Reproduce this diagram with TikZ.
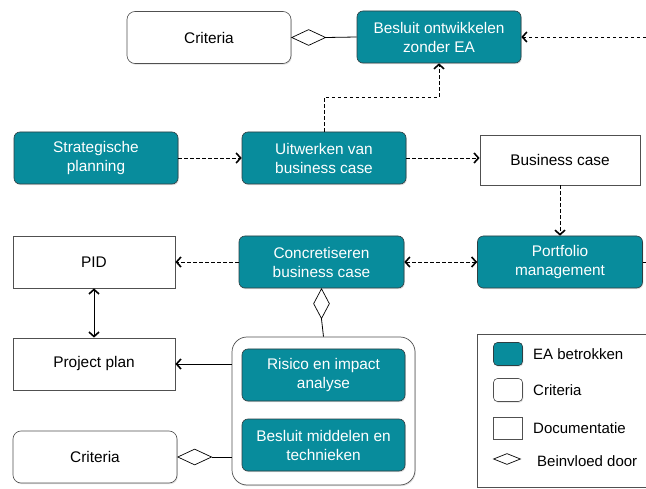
\documentclass[tikz,border=0pt]{standalone}
\usepackage{fontspec}
\setmainfont{Liberation Sans}
\usetikzlibrary{arrows.meta,shapes.geometric,shadows,calc}
\definecolor{eateal}{RGB}{8,140,156}
\definecolor{eaborder}{RGB}{45,62,66}
\definecolor{boxline}{RGB}{80,80,80}
\newcommand\mainfs{\fontsize{15.4}{19}\selectfont}
\newcommand\legfs{\fontsize{15}{18}\selectfont}
\begin{document}
\begin{tikzpicture}[x=1pt,y=-1pt,
  shad/.style={drop shadow={opacity=0.25,shadow xshift=0.8pt,shadow yshift=-1.2pt}},
  ea/.style={draw=eaborder, line width=0.6pt, fill=eateal, text=white, rounded corners=6pt,
    minimum width=164pt, minimum height=52pt, align=center, font=\mainfs, inner sep=2pt, shad},
  crit/.style={draw=boxline, line width=0.6pt, fill=white, rounded corners=8pt,
    minimum width=164pt, minimum height=52pt, align=center, font=\mainfs, shad},
  doc/.style={draw=boxline, line width=0.8pt, fill=white,
    minimum width=162pt, minimum height=52pt, align=center, font=\mainfs},
  dia/.style={draw=black, line width=0.7pt, fill=white, shape=diamond, inner sep=0pt},
  dsh/.style={dash pattern=on 3.5pt off 2.5pt, line width=0.8pt},
  sol/.style={line width=0.8pt},
  tip/.style={-{Straight Barb[length=4.5pt,width=10pt,line width=1.6pt]}},
  tips/.style={{Straight Barb[length=4.5pt,width=10pt,line width=1.6pt]}-{Straight Barb[length=4.5pt,width=10pt,line width=1.6pt]}},
  legtext/.style={anchor=west, font=\legfs, inner sep=0pt}
]
\useasboundingbox (0,0) rectangle (646,489);
\fill[white] (0,0) rectangle (646,489);

% top row
\node[crit] (crit1) at (209,37.5) {Criteria};
\node[ea] (besluit) at (439,37) {Besluit ontwikkelen\\zonder EA};
\node[dia, minimum width=34pt, minimum height=16pt, anchor=west] (d1) at (crit1.east) {};
\draw[sol] (d1.east) -- (besluit.west);
\coordinate (rb) at (646,37);
\draw[dsh,tip] (rb) -- (besluit.east);

% second row
\node[ea] (strat) at (96,158) {Strategische\\planning};
\node[ea] (uit) at (324,158) {Uitwerken van\\business case};
\node[doc, minimum width=160pt, minimum height=50pt] (bc) at (560,160) {Business case};
\draw[dsh,tip] (strat.east) -- (uit.west);
\draw[dsh,tip] (uit.east) -- (uit.east -| bc.west);
\draw[dsh,tip] (uit.north) |- ($(uit.north)!0.5!(besluit.south)$) -| (besluit.south);

% third row
\node[doc] (pid) at (94,262) {PID};
\node[ea, minimum width=165pt] (conc) at (321.5,262) {Concretiseren\\business case};
\node[ea, minimum width=165pt] (port) at (560,262) {Portfolio\\management};
\draw[dsh,tip] (bc.south) -- (port.north);
\draw[dsh,tip] (conc.west) -- (pid.east);
\draw[dsh,tips] (conc.east) -- (port.west);
\coordinate (rp) at (646,262);
\draw[dsh] (port.east) -- (rp);

% lower part
\node[doc] (pp) at (94,364) {Project plan};
\draw[sol,tips] (pid.south) -- (pp.north);
\node[draw=boxline, line width=0.7pt, fill=white, rounded corners=15pt,
  minimum width=183pt, minimum height=148pt, shad] (cont) at (323.5,411) {};
\node[ea, minimum width=163pt] (ris) at (323.5,375) {Risico en impact\\analyse};
\node[ea, minimum width=163pt] (bmt) at (323.5,445) {Besluit middelen en\\technieken};
\node[dia, minimum width=16pt, minimum height=30pt, anchor=north] (d2) at (conc.south) {};
\draw[sol] (d2.south) -- (cont.north);
\draw[sol,tip] (cont.west |- pp.east) -- (pp.east);
\node[crit] (crit2) at (95,457) {Criteria};
\node[dia, minimum width=34pt, minimum height=16pt, anchor=west] (d3) at (crit2.east) {};
\draw[sol] (d3.east) -- (d3.east -| cont.west);

% legend
\node[draw=boxline, line width=0.8pt, fill=white, minimum width=176pt, minimum height=153pt,
  anchor=north west, inner sep=0pt] (leg) at (477,334) {};
\node[draw=eaborder, line width=0.6pt, fill=eateal, rounded corners=4pt, minimum width=29pt,
  minimum height=23pt, inner sep=0pt, shad] (l1) at (508,354) {};
\node[legtext] (t1) at (533,354) {EA betrokken};
\node[draw=boxline, line width=0.6pt, fill=white, rounded corners=4pt, minimum width=29pt,
  minimum height=23pt, inner sep=0pt, shad] (l2) at (508,390) {};
\node[legtext] (t2) at (533,390) {Criteria};
\node[draw=boxline, line width=0.8pt, fill=white, minimum width=29pt,
  minimum height=22pt, inner sep=0pt] (l3) at (508,428) {};
\node[legtext] (t3) at (533,428) {Documentatie};
\node[dia, minimum width=27pt, minimum height=11pt] (l4) at (507,459) {};
\node[legtext] (t4) at (537,461) {Beinvloed door};
\end{tikzpicture}
\end{document}
